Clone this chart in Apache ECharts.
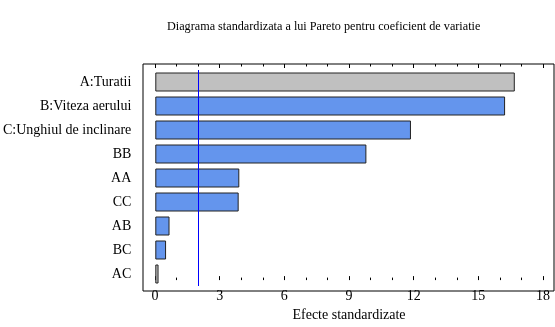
<!DOCTYPE html>
<html>
<head>
<meta charset="utf-8">
<script src="https://cdn.jsdelivr.net/npm/echarts@6/dist/echarts.min.js"></script>
<style>
  html, body { margin: 0; padding: 0; background: #fff; }
  #chart { width: 555px; height: 327px; }
</style>
</head>
<body>
<div id="chart"></div>
<script>
// Standardized Pareto chart: effects sorted by magnitude
const factors = ['A:Turatii', 'B:Viteza aerului', 'C:Unghiul de inclinare', 'BB', 'AA', 'CC', 'AB', 'BC', 'AC'];
const effects = [16.69, 16.24, 11.87, 9.80, 3.90, 3.87, 0.66, 0.50, 0.15];
// sign of each effect: '+' positive, '-' negative
const signs = ['+', '-', '-', '-', '-', '-', '-', '-', '+'];
const criticalValue = 2.01;
const xTicks = [0, 3, 6, 9, 12, 15, 18];

const SERIF = '"Liberation Serif", "Times New Roman", serif';
const POS_COLOR = '#c0c0c0';
const NEG_COLOR = '#6495ed';

const chart = echarts.init(document.getElementById('chart'), null, { renderer: 'canvas' });

const xMin = xTicks[0];
const xMax = xTicks[xTicks.length - 1];
const xStep = xTicks[1] - xTicks[0];

const tickAxisBase = {
  type: 'value',
  min: xMin,
  max: xMax,
  interval: xStep,
  axisLine: { show: false },
  splitLine: { show: false },
  axisTick: { show: true, inside: true, length: 4, lineStyle: { color: '#000', width: 1 } },
  minorTick: { show: true, splitNumber: 3, length: 2.5, lineStyle: { color: '#000', width: 1 } },
};

chart.setOption({
  animation: false,
  backgroundColor: '#fff',
  title: {
    text: 'Diagrama standardizata a lui Pareto pentru coeficient de variatie',
    left: 162,
    top: 16,
    textStyle: { fontFamily: SERIF, fontSize: 12.2, fontWeight: 'normal', color: '#000' }
  },
  grid: [
    // frame
    { left: 143, top: 64, width: 411, height: 227, show: true, borderColor: '#000', borderWidth: 1, backgroundColor: 'transparent' },
    // tick scale
    { left: 155, top: 64, width: 388, height: 227 },
    // bars
    { left: 155, top: 70, width: 388, height: 216 }
  ],
  xAxis: [
    { gridIndex: 0, type: 'value', min: 0, max: 1, show: false },
    Object.assign({}, tickAxisBase, {
      gridIndex: 1,
      position: 'bottom',
      axisLabel: { show: true, margin: 9, fontFamily: SERIF, fontSize: 14, color: '#000' },
      name: 'Efecte standardizate',
      nameLocation: 'middle',
      nameGap: 20,
      nameTextStyle: { fontFamily: SERIF, fontSize: 14, color: '#000' }
    }),
    Object.assign({}, tickAxisBase, {
      gridIndex: 1,
      position: 'top',
      axisLabel: { show: false }
    }),
    { gridIndex: 2, type: 'value', min: xMin, max: xMax, show: false }
  ],
  yAxis: [
    { gridIndex: 0, type: 'value', min: 0, max: 1, show: false },
    { gridIndex: 1, type: 'value', min: 0, max: 1, show: false },
    {
      gridIndex: 2,
      type: 'category',
      inverse: true,
      data: factors,
      axisLine: { show: false },
      axisTick: { show: false },
      splitLine: { show: false },
      axisLabel: { margin: 24, fontFamily: SERIF, fontSize: 14, color: '#000' }
    }
  ],
  series: [
    {
      type: 'bar',
      xAxisIndex: 3,
      yAxisIndex: 2,
      barWidth: 19,
      data: effects.map((v, i) => ({
        value: v,
        itemStyle: { color: signs[i] === '+' ? POS_COLOR : NEG_COLOR }
      })),
      itemStyle: { borderColor: '#222', borderWidth: 1 },
      markLine: {
        silent: true,
        symbol: 'none',
        label: { show: false },
        lineStyle: { color: '#0000ff', width: 1, type: 'solid' },
        data: [{ xAxis: criticalValue }]
      }
    }
  ]
});
</script>
</body>
</html>
